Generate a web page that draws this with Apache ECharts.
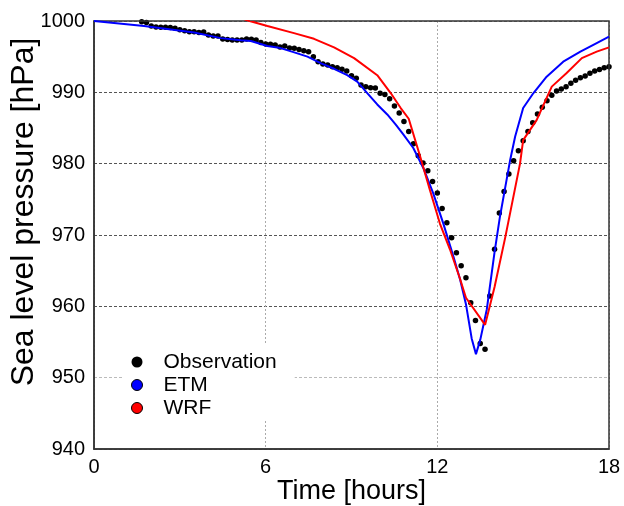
<!DOCTYPE html>
<html>
<head>
<meta charset="utf-8">
<script src="https://cdn.jsdelivr.net/npm/echarts@6/dist/echarts.min.js"></script>
<style>
html,body{margin:0;padding:0;background:#fff;}
#chart{width:624px;height:506px;}
</style>
</head>
<body>
<div id="chart"></div>
<script>
// Observation (every 10 minutes)
var obsTime = [1.667,1.833,2.0,2.167,2.333,2.5,2.667,2.833,3.0,3.167,3.333,3.5,3.667,3.833,4.0,4.167,4.333,4.5,4.667,4.833,5.0,5.167,5.333,5.5,5.667,5.833,6.0,6.167,6.333,6.5,6.667,6.833,7.0,7.167,7.333,7.5,7.667,7.833,8.0,8.167,8.333,8.5,8.667,8.833,9.0,9.167,9.333,9.5,9.667,9.833,10.0,10.167,10.333,10.5,10.667,10.833,11.0,11.167,11.333,11.5,11.667,11.833,12.0,12.167,12.333,12.5,12.667,12.833,13.0,13.167,13.333,13.5,13.667,13.833,14.0,14.167,14.333,14.5,14.667,14.833,15.0,15.167,15.333,15.5,15.667,15.833,16.0,16.167,16.333,16.5,16.667,16.833,17.0,17.167,17.333,17.5,17.667,17.833,18.0];
var obsPressure = [999.9,999.8,999.3,999.16,999.13,999.13,999.08,998.97,998.78,998.64,998.5,998.5,998.4,998.45,998.04,997.9,997.9,997.48,997.4,997.34,997.34,997.34,997.48,997.43,997.34,997.0,996.78,996.73,996.64,996.36,996.5,996.2,996.17,996.0,995.84,995.7,995.0,994.3,993.97,993.83,993.6,993.46,993.22,993.0,992.34,991.96,991.03,990.8,990.65,990.6,989.86,989.7,989.1,988.1,987.1,985.9,984.5,982.8,981.1,980.1,979.0,977.5,975.9,973.7,971.7,969.6,967.5,965.7,964.0,960.5,958.0,954.8,954.0,961.45,968.0,973.1,976.1,978.55,980.4,981.8,983.2,984.5,985.75,986.96,987.9,988.83,989.6,990.2,990.47,990.8,991.26,991.7,992.05,992.3,992.66,993.0,993.2,993.45,993.6];

// ETM model
var etmTime = [0,1.75,3.5,4.43,5.13,5.48,6.06,6.52,7.0,7.46,7.92,8.39,8.85,9.2,9.55,9.9,10.25,10.54,10.81,11.16,11.51,11.86,12.21,12.56,12.8,13.0,13.2,13.35,13.5,13.73,14.0,14.19,14.37,14.54,14.72,15.0,15.36,15.82,16.4,17.0,17.57,18.0];
var etmPressure = [1000,999.3,998.4,997.6,997.3,997.2,996.5,996.2,995.6,995.0,994.1,993.3,992.4,991.5,989.9,988.3,986.9,985.5,984.1,982.2,979.4,975.8,971.6,967.0,963.7,960.3,955.5,953.3,955.3,959.6,967.6,972.6,976.6,980.4,983.8,987.8,989.9,992.2,994.3,995.7,996.9,997.8];

// WRF model
var wrfTime = [5.0,5.44,6.06,6.99,7.69,8.39,9.09,9.9,10.37,10.72,11.0,11.4,11.74,12.09,12.44,12.79,13.0,13.67,14.0,14.37,14.89,15.0,15.47,16.0,16.52,17.05,17.57,18.0];
var wrfPressure = [1000.6,1000.0,999.3,998.3,997.5,996.3,994.8,992.4,989.9,987.8,986.3,981.0,976.3,971.6,968.0,963.9,961.2,957.4,962.7,969.6,980.0,983.3,986.1,990.8,992.7,994.8,995.7,996.3];

var xTicks = [0,6,12,18];
var yTicks = [940,950,960,970,980,990,1000];
var seriesNames = ['Observation','ETM','WRF'];

function zip(a,b){var r=[];for(var i=0;i<a.length;i++){r.push([a[i],b[i]]);}return r;}

var FONT = '"Liberation Sans", Arial, Helvetica, sans-serif';
var chart = echarts.init(document.getElementById('chart'), null, {renderer:'canvas'});
chart.setOption({
  animation:false,
  backgroundColor:'#fff',
  grid:{left:94,right:15,top:21,bottom:57,containLabel:false,outerBoundsMode:'none',
        show:true,borderColor:'#333',borderWidth:1.5,backgroundColor:'transparent',z:3},
  xAxis:{
    type:'value',min:xTicks[0],max:xTicks[xTicks.length-1],interval:6,
    name:'Time [hours]',nameLocation:'middle',nameGap:29,nameMoveOverlap:false,
    nameTextStyle:{fontFamily:FONT,fontSize:27,color:'#000'},
    axisLine:{show:true,lineStyle:{color:'#333',width:1.5}},
    axisTick:{show:false},
    axisLabel:{fontFamily:FONT,fontSize:20,color:'#000',margin:8,formatter:function(v){return String(v);}},
    splitLine:{show:true,lineStyle:{color:'#aaa',type:[2,2],width:1}}
  },
  yAxis:{
    type:'value',min:yTicks[0],max:yTicks[yTicks.length-1],interval:10,
    name:'Sea level pressure [hPa]',nameLocation:'middle',nameGap:54,nameMoveOverlap:false,
    nameTextStyle:{fontFamily:FONT,fontSize:32,color:'#000',padding:[0,0,0,46]},
    axisLine:{show:true,lineStyle:{color:'#333',width:1.5}},
    axisTick:{show:false},
    axisLabel:{fontFamily:FONT,fontSize:20,color:'#000',margin:9,formatter:function(v){return String(v);}},
    splitLine:{show:true,lineStyle:{color:['#888','#bbb','#555','#555','#555','#555','#888'],type:[3,2],width:1}}
  },
  legend:{
    orient:'vertical',left:123,top:343,
    backgroundColor:'#fff',padding:[8,18,2,8],
    itemWidth:11,itemHeight:11,itemGap:1,
    textStyle:{fontFamily:FONT,fontSize:21,color:'#000',lineHeight:22,padding:[0,0,0,16]},
    data:[
      {name:seriesNames[0],icon:'circle',itemStyle:{color:'#000',borderWidth:0}},
      {name:seriesNames[1],icon:'circle',itemStyle:{color:'#0000ff',borderColor:'#000',borderWidth:1}},
      {name:seriesNames[2],icon:'circle',itemStyle:{color:'#ff0000',borderColor:'#000',borderWidth:1}}
    ]
  },
  series:[
    {name:seriesNames[0],type:'scatter',data:zip(obsTime,obsPressure),symbol:'circle',symbolSize:5.5,
     itemStyle:{color:'#000',opacity:1},clip:true,z:2},
    {name:seriesNames[1],type:'line',data:zip(etmTime,etmPressure),showSymbol:false,symbol:'none',
     lineStyle:{color:'#0000ff',width:2},itemStyle:{color:'#0000ff'},clip:true,z:3},
    {name:seriesNames[2],type:'line',data:zip(wrfTime,wrfPressure),showSymbol:false,symbol:'none',
     lineStyle:{color:'#ff0000',width:2},itemStyle:{color:'#ff0000'},clip:true,z:3}
  ]
});
</script>
</body>
</html>
